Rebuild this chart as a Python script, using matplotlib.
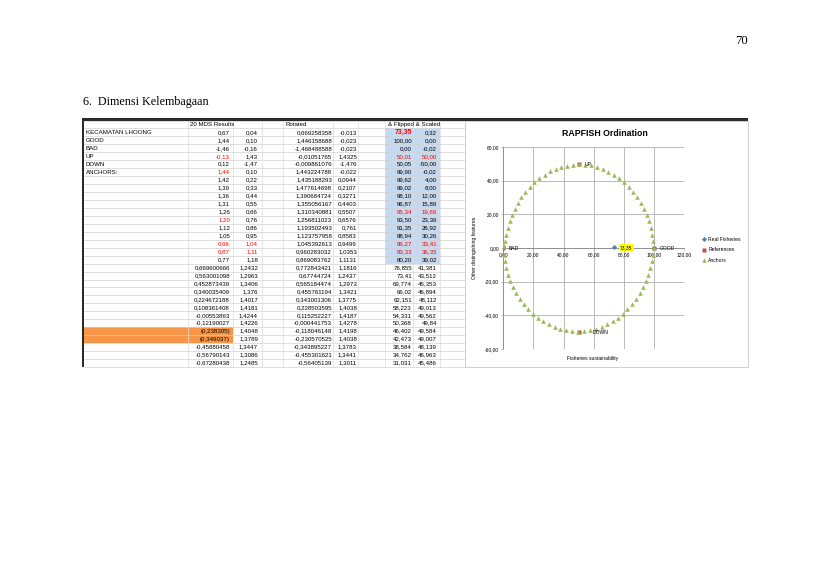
import matplotlib
matplotlib.use('Agg')
import matplotlib.pyplot as plt
from matplotlib.patches import Rectangle
from matplotlib.ticker import FuncFormatter, MultipleLocator

W, H = 819, 579

# ---------------- spreadsheet data (text as shown) ----------------
row_labels = ["KECAMATAN LHOONG", "GOOD", "BAD", "UP", "DOWN", "ANCHORS:"] + [""] * 24
mds_1 = ["0,67", "1,44", "-1,46", "-0,13", "0,12", "1,44",
         "1,42", "1,39", "1,36", "1,31", "1,26", "1,20", "1,12", "1,05", "0,96", "0,87", "0,77",
         "0,669600666", "0,563001098", "0,452873439", "0,340035409", "0,224672188", "0,108361408",
         "-0,00553863", "-0,12190027", "(0,238305)", "(0,349037)", "-0,45880458", "-0,56790143",
         "-0,67280438"]
mds_2 = ["0,04", "0,10", "-0,16", "1,43", "-1,47", "0,10",
         "0,22", "0,33", "0,44", "0,55", "0,66", "0,76", "0,86", "0,95", "1,04", "1,11", "1,18",
         "1,2432", "1,2963", "1,3406", "1,376", "1,4017", "1,4181", "1,4244", "1,4226", "1,4048",
         "1,3789", "1,3447", "1,3086", "1,2485"]
rot_1 = ["0,669258358", "1,446158688", "-1,468488588", "-0,01051765", "-0,009861076", "1,443224788",
         "1,435188293", "1,477614698", "1,390684724", "1,355056167", "1,310340881", "1,256811023",
         "1,193502493", "1,123757958", "1,045392613", "0,960283032", "0,869083762",
         "0,772843421", "0,67744724", "0,565184474", "0,455761194", "0,343001306", "0,228503595",
         "0,115252227", "-0,000441753", "-0,118046148", "-0,230570525", "-0,343895227",
         "-0,455301621", "-0,56405139"]
rot_2 = ["-0,013", "-0,023", "-0,023", "1,4325", "-1,476", "-0,022",
         "0,0944", "0,2107", "0,3271", "0,4403", "0,5507", "0,6576", "0,761", "0,8583", "0,9499",
         "1,0353", "1,1131", "1,1816", "1,2437", "1,2973", "1,3421", "1,3775", "1,4038", "1,4187",
         "1,4278", "1,4198", "1,4038", "1,3783", "1,3441", "1,3011"]
flip_1 = ["73,35", "100,00", "0,00", "50,01", "50,05", "99,90",
          "99,62", "99,02", "98,10", "96,87", "95,34", "93,50", "91,35", "88,94", "86,27", "83,33",
          "80,20", "76,855", "73,41", "69,774", "66,02", "62,151", "58,223", "54,331", "50,368",
          "46,402", "42,473", "38,584", "34,762", "31,031"]
flip_2 = ["0,32", "0,00", "-0,02", "50,00", "-50,00", "-0,02",
          "4,00", "8,00", "12,00", "15,89", "19,69", "23,36", "26,92", "30,26", "33,41", "36,35",
          "39,02", "41,381", "43,512", "45,353", "46,894", "48,112", "49,013", "49,562", "49,84",
          "49,584", "49,007", "48,139", "46,963", "45,486"]
header_texts = ["20 MDS Results", "Rotated", "& Flipped & Scaled"]
red_mds1 = [3, 5, 11, 14, 15]
red_mds2 = [14, 15]
red_flip1 = [0, 3, 10, 14, 15]
red_flip2 = [3, 10, 14, 15]
orange_rows = [25, 26]

# ---------------- chart data ----------------
real_x = [73.35]
real_y = [0.32]
ref_x = [100.00, 0.00, 50.01, 50.05]
ref_y = [0.00, -0.02, 50.00, -50.00]
ref_names = ["GOOD", "BAD", "UP", "DOWN"]
anchor_x = [99.90, 99.62, 99.02, 98.10, 96.87, 95.34, 93.50, 91.35, 88.94, 86.27, 83.33, 80.20,
            76.855, 73.41, 69.774, 66.02, 62.151, 58.223, 54.331, 50.368, 46.402, 42.473, 38.584,
            34.762, 31.031, 27.40, 23.90, 20.60, 17.50, 14.60, 12.00, 9.60, 7.50, 5.70, 4.20,
            3.00, 2.00, 1.20, 0.60, 0.10,
            0.30, 0.90, 1.80, 3.10, 4.60, 6.50, 8.60, 11.00, 13.70, 16.60, 19.80, 23.10, 26.60,
            30.20, 34.00, 37.80, 41.80, 45.70, 49.60, 53.60, 57.50, 61.40, 65.20, 68.90, 72.50,
            76.00, 79.30, 82.40, 85.30, 88.00, 90.50, 92.70, 94.60, 96.20, 97.50, 98.50, 99.30]
anchor_y = [-0.02, 4.00, 8.00, 12.00, 15.89, 19.69, 23.36, 26.92, 30.26, 33.41, 36.35, 39.02,
            41.381, 43.512, 45.353, 46.894, 48.112, 49.013, 49.562, 49.84, 49.584, 49.007, 48.139,
            46.963, 45.486, 43.60, 41.40, 39.00, 36.40, 33.40, 30.30, 26.90, 23.40, 19.70, 15.90,
            12.00, 8.00, 4.00, 1.20, 2.50,
            -4.00, -8.00, -12.00, -15.90, -19.70, -23.40, -26.90, -30.30, -33.40, -36.30, -39.00,
            -41.40, -43.50, -45.40, -46.90, -48.10, -49.00, -49.60, -49.80, -49.60, -49.00,
            -48.10, -46.90, -45.40, -43.50, -41.40, -39.00, -36.30, -33.40, -30.30, -26.90,
            -23.40, -19.70, -15.90, -12.00, -8.00, -4.00]

plt.rcParams['font.family'] = ['Liberation Sans', 'DejaVu Sans']

fig = plt.figure(figsize=(W / 100, H / 100), dpi=100)
fig.patch.set_facecolor('white')

bg = fig.add_axes([0, 0, 1, 1])
bg.set_xlim(0, W)
bg.set_ylim(H, 0)
bg.axis('off')

serif = ['Liberation Serif', 'DejaVu Serif']
bg.text(748, 41, "70", family=serif, fontsize=9.2, ha='right', va='center')
bg.text(83, 102, "6.  Dimensi Kelembagaan", family=serif, fontsize=8.7, ha='left', va='center')

# spreadsheet frame
top, bottom = 121, 367
row0 = 124.5
rh = 7.95
bg.add_patch(Rectangle((82, 117.5), 666, 3.5, color='#2a2a2a', lw=0))
bg.add_patch(Rectangle((82, 117.5), 2.2, bottom - 117.5, color='#2a2a2a', lw=0))

# fills
bg.add_patch(Rectangle((385, row0 + rh * 0.5), 55, rh * 17, color='#c5d9f1', lw=0))
for r in orange_rows:
    ri = r + 1
    bg.add_patch(Rectangle((84.2, row0 + rh * (ri - 0.5)), 148.8, rh, color='#f79646', lw=0))

# gridlines
for i in range(32):
    y = row0 + rh * (i - 0.5)
    bg.plot([84.2, 465], [y, y], color='#d2d2d2', lw=0.5)
for xv in [188, 233, 262, 283, 333, 358, 385, 413, 440]:
    bg.plot([xv, xv], [top, bottom], color='#dcdcdc', lw=0.5)

fs = 4.4
bg.text(190, row0, header_texts[0], fontsize=fs, ha='left', va='center')
bg.text(285, row0, header_texts[1], fontsize=fs, ha='left', va='center')
bg.text(388, row0, header_texts[2], fontsize=fs, ha='left', va='center')

for k in range(30):
    y = row0 + rh * (k + 1)
    if row_labels[k]:
        bg.text(86, y, row_labels[k], fontsize=fs, ha='left', va='center')
    bg.text(230, y, mds_1[k], fontsize=fs, ha='right', va='center',
            color='#ff0000' if k in red_mds1 else 'black')
    bg.text(258, y, mds_2[k], fontsize=fs, ha='right', va='center',
            color='#ff0000' if k in red_mds2 else 'black')
    bg.text(332, y, rot_1[k], fontsize=fs, ha='right', va='center')
    bg.text(357, y, rot_2[k], fontsize=fs, ha='right', va='center')
    bg.text(412, y, flip_1[k], fontsize=fs if k else fs + 0.6, ha='right', va='center',
            color='#ff0000' if k in red_flip1 else 'black',
            fontweight='bold' if k == 0 else 'normal')
    bg.text(437, y, flip_2[k], fontsize=fs, ha='right', va='center',
            color='#ff0000' if k in red_flip2 else 'black')

# chart panel
bg.add_patch(Rectangle((465, 121), 283, 246, facecolor='white', edgecolor='#c8c8c8', lw=0.6, zorder=5))
bg.text(605, 133, "RAPFISH Ordination", fontsize=6.3, fontweight='bold', ha='center',
        va='center', zorder=6)

# chart axes
ax = fig.add_axes([503.3 / W, (H - 349) / H, 180.8 / W, 202 / H])
ax.set_zorder(10)
ax.patch.set_alpha(0)
ax.set_xlim(0, 120)
ax.set_ylim(-60, 60)
ax.xaxis.set_major_locator(MultipleLocator(20))
ax.yaxis.set_major_locator(MultipleLocator(20))
fmt = FuncFormatter(lambda v, p: f"{v:.2f}".replace('.', ','))
ax.xaxis.set_major_formatter(fmt)
ax.yaxis.set_major_formatter(fmt)
ax.grid(True, color='#b0b0b0', lw=0.6)
ax.set_axisbelow(True)
for s in ['top', 'right']:
    ax.spines[s].set_visible(False)
ax.spines['bottom'].set_position(('data', 0))
ax.spines['bottom'].set_color('#8a8a8a')
ax.spines['left'].set_color('#8a8a8a')
ax.spines['bottom'].set_linewidth(0.6)
ax.spines['left'].set_linewidth(0.6)
ax.tick_params(labelsize=3.5, length=1.5, width=0.4, color='#8a8a8a', pad=1.5)

ax.plot(real_x, real_y, linestyle='none', marker='D', ms=2.6, color='#4f81bd',
        mec='none', label='Real Fisheries', zorder=4)
ax.plot(ref_x, ref_y, linestyle='none', marker='s', ms=3.0, color='#c0504d',
        mec='none', label='References', zorder=3)
ax.plot(anchor_x, anchor_y, linestyle='none', marker='^', ms=3.3, color='#9bbb59',
        mec='none', label='Anchors', zorder=5)

offsets = {"GOOD": 4.5, "BAD": 4, "UP": 4.5, "DOWN": 10}
for nx, ny, nm in zip(ref_x, ref_y, ref_names):
    ax.annotate(nm, (nx, ny), xytext=(offsets[nm], -0.5), textcoords='offset points',
                fontsize=3.6, ha='left', va='center', zorder=6)
ax.annotate(f"{real_x[0]:.2f}".replace('.', ','), (real_x[0], real_y[0]),
            xytext=(4.5, 0), textcoords='offset points', fontsize=3.6, ha='left', va='center',
            bbox=dict(boxstyle='square,pad=0.25', fc='#ffff00', ec='none'), zorder=6)

ax.set_xlabel("Fisheries sustainability", fontsize=3.6)
ax.xaxis.set_label_coords(0.496, -0.035)
ax.set_ylabel("Other distingishing features", fontsize=3.6)
ax.yaxis.set_label_coords(-0.145, 0.5)

ax.legend(loc='upper left', bbox_to_anchor=(1.09, 0.565), frameon=False, fontsize=3.6,
          numpoints=1, handlelength=0.8, handletextpad=0.4, labelspacing=1.1, borderaxespad=0)

fig.savefig('out.png', dpi=100, facecolor='white')
